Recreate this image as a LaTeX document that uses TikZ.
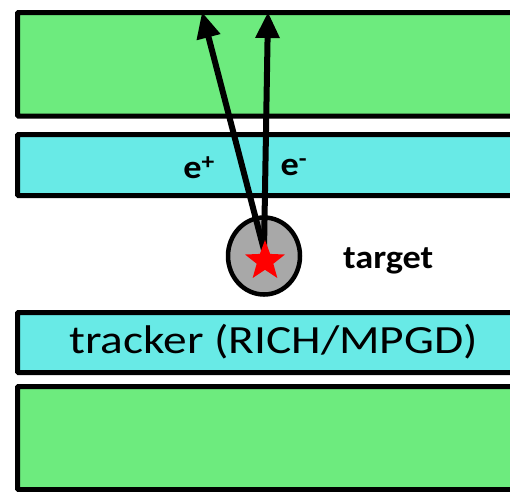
\documentclass[tikz,border=0pt]{standalone}
\usepackage{fontspec}
\setmainfont{Carlito}
\usetikzlibrary{arrows.meta,shapes.geometric}
\definecolor{detgreen}{HTML}{6DEB7E}
\definecolor{detcyan}{HTML}{68EAE6}
\definecolor{tgtgray}{HTML}{A8A8A8}
\begin{document}
\begin{tikzpicture}[x=1pt,y=-1pt,
  layer/.style={draw=black,line width=5pt,rounded corners=1pt},
  track/.style={line width=6pt,-{Triangle[length=26pt,width=23pt]}},
  lbl/.style={font=\bfseries\fontsize{33}{36}\selectfont,inner sep=0pt}]
\useasboundingbox (0,0) rectangle (510,491);
\clip (0,0) rectangle (510,491);
\draw[layer,fill=detgreen] (17.5,12.5) rectangle (540,116);
\draw[layer,fill=detcyan] (17.5,134.5) rectangle (540,195.5);
\draw[layer,fill=detcyan] (17.5,312.5) rectangle (540,372.5);
\draw[layer,fill=detgreen] (17.5,386.5) rectangle (540,489.5);
\node[inner sep=0pt,font=\fontsize{40}{44}\selectfont] (trk) at (273.5,342) {\scalebox{1.185}[1]{tracker (RICH/MPGD)}};
\node[draw=black,line width=4.5pt,fill=tgtgray,ellipse,minimum width=72pt,minimum height=77pt,inner sep=0pt] (tgt) at (264,256) {};
\coordinate (vtx) at (264,250);
\coordinate (tipL) at (202,12);
\coordinate (tipR) at (268,12);
\draw[track] (vtx) -- (tipL);
\draw[track] (vtx) -- (tipR);
\node[star,star points=5,star point ratio=2.4,fill=red,minimum size=42pt,inner sep=0pt] (st) at (265,261) {};
\node[lbl] (ep) at (199,168) {\scalebox{1.1}[1]{e\textsuperscript{+}}};
\node[lbl] (em) at (294,167) {\scalebox{1.1}[1]{e\textsuperscript{-}}};
\node[lbl,anchor=base west] (tl) at (343,268) {\scalebox{1.1}[1]{target}};
\end{tikzpicture}
\end{document}
